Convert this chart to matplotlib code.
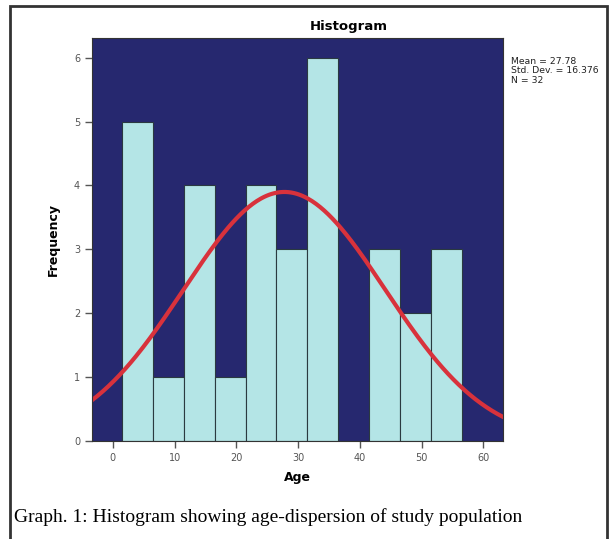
import numpy as np
import matplotlib.pyplot as plt
from matplotlib.patches import Rectangle

# histogram of ages, bin width 5
bin_edges = [1.5, 6.5, 11.5, 16.5, 21.5, 26.5, 31.5, 36.5, 41.5, 46.5, 51.5, 56.5]
counts = [5, 1, 4, 1, 4, 3, 6, 0, 3, 2, 3]
mean_age = 27.78
sd_age = 16.376
n_total = 32

navy = '#26286f'
bar_col = '#b4e5e6'

fig = plt.figure(figsize=(6.13, 5.39), dpi=100)
ax = fig.add_axes([0.150, 0.182, 0.6705, 0.7477])
ax.set_facecolor(navy)

lefts = bin_edges[:-1]
widths = np.diff(bin_edges)
ax.bar(lefts, counts, width=widths, align='edge', color=bar_col,
       edgecolor='#2a3a40', linewidth=0.8)

# normal curve from the stated mean / sd / N
xs = np.linspace(-3.4, 63.2, 300)
bw = widths[0]
ys = n_total * bw / (sd_age * np.sqrt(2 * np.pi)) * np.exp(-0.5 * ((xs - mean_age) / sd_age) ** 2)
ax.plot(xs, ys, color='#d8323c', linewidth=3)

ax.set_xlim(-3.4, 63.2)
ax.set_ylim(0, 6.31)
ax.set_xticks(range(0, 61, 10))
ax.set_yticks(range(0, 7))
ax.tick_params(colors='#555555', labelsize=7, length=5, width=1)
for s in ax.spines.values():
    s.set_color('#333333')

ax.set_title('Histogram', fontsize=9.5, fontweight='bold', pad=6, x=0.625)
ax.set_xlabel('Age', fontsize=9, fontweight='bold', labelpad=6)
ax.set_ylabel('Frequency', fontsize=9, fontweight='bold', labelpad=10)

fig.text(0.834, 0.895, 'Mean = 27.78\nStd. Dev. = 16.376\nN = 32',
         fontsize=6.7, va='top', ha='left', linespacing=1.12, color='#222222')

fig.text(0.023, 0.025, 'Graph. 1: Histogram showing age-dispersion of study population',
         family='Liberation Serif', fontsize=14, ha='left', va='bottom')

fig.patches.append(Rectangle((0.016, -0.01), 0.975, 0.999, transform=fig.transFigure,
                             fill=False, edgecolor='#333333', linewidth=2))

fig.savefig('out.png', dpi=100)
